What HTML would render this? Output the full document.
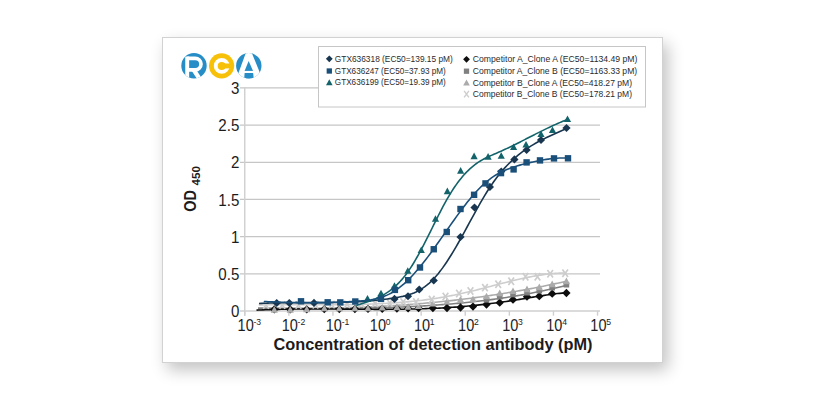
<!DOCTYPE html>
<html><head><meta charset="utf-8"><title>RCA ELISA chart</title>
<style>
html,body{margin:0;padding:0;background:#fff;}
body{width:825px;height:400px;position:relative;overflow:hidden;}
.card{position:absolute;left:162px;top:37px;width:499px;height:324px;border:1px solid #d2d2d2;background:#fff;box-shadow:5px 7px 15px rgba(0,0,0,0.24);}
</style></head><body>
<div class="card"></div>
<svg width="825" height="400" viewBox="0 0 825 400" style="position:absolute;left:0;top:0"><defs>
 <clipPath id="cR"><circle cx="194" cy="65.8" r="12.7"/></clipPath>
 <clipPath id="cA"><circle cx="248.8" cy="65.8" r="12.7"/></clipPath>
</defs>
<circle cx="194" cy="65.8" r="12.7" fill="#268dc7"/>
<g clip-path="url(#cR)" fill="none" stroke="#fff" stroke-width="3.7">
 <line x1="187.2" y1="56.5" x2="187.2" y2="80" stroke-width="3.9"/>
 <path d="M187.2,58.3 H195.2 A5.7,5.7 0 0 1 195.2,69.9 H187.2"/>
 <line x1="193.8" y1="70" x2="200.3" y2="80" stroke-width="4.3"/>
</g>
<circle cx="221.6" cy="65.8" r="12.6" fill="#f7c109"/>
<circle cx="221.7" cy="65.9" r="5.95" fill="none" stroke="#fff" stroke-width="3.9"/>
<rect x="223.5" y="63.5" width="7.5" height="4.9" fill="#f7c109"/>
<circle cx="248.8" cy="65.8" r="12.7" fill="#268dc7"/>
<g clip-path="url(#cA)">
 <path d="M246.9,50 L250.6,50 L262.8,80 L235.9,80Z" fill="#fff"/>
 <path d="M248.65,61.1 L252.85,70.6 L253.9,80 L244.1,80 L244.8,70.6Z" fill="#268dc7"/>
 <rect x="243.5" y="70.9" width="11.5" height="2.1" fill="#fff"/>
</g>
<g stroke="#cfcfcf" stroke-width="1.4" fill="none"><line x1="240" y1="273.83" x2="600" y2="273.83" stroke="#c6c6c6" stroke-width="1.25"/><line x1="240" y1="236.66" x2="600" y2="236.66" stroke="#c6c6c6" stroke-width="1.25"/><line x1="240" y1="199.49" x2="600" y2="199.49" stroke="#c6c6c6" stroke-width="1.25"/><line x1="240" y1="162.32" x2="600" y2="162.32" stroke="#c6c6c6" stroke-width="1.25"/><line x1="240" y1="125.15" x2="600" y2="125.15" stroke="#c6c6c6" stroke-width="1.25"/><line x1="240" y1="87.98" x2="600" y2="87.98" stroke="#c6c6c6" stroke-width="1.25"/><line x1="240" y1="311" x2="600" y2="311" stroke-width="1.6"/><line x1="244.75" y1="311" x2="244.75" y2="315.7"/><line x1="288.85" y1="311" x2="288.85" y2="315.7"/><line x1="332.95" y1="311" x2="332.95" y2="315.7"/><line x1="377.05" y1="311" x2="377.05" y2="315.7"/><line x1="421.15" y1="311" x2="421.15" y2="315.7"/><line x1="465.25" y1="311" x2="465.25" y2="315.7"/><line x1="509.35" y1="311" x2="509.35" y2="315.7"/><line x1="553.45" y1="311" x2="553.45" y2="315.7"/><line x1="597.55" y1="311" x2="597.55" y2="315.7"/><line x1="244.75" y1="87.5" x2="244.75" y2="315.7"/></g>
<g font-family="Liberation Sans, Arial, sans-serif" font-size="15.5" fill="#1c1c1c"><text transform="translate(239.3,317.10) scale(0.9,1)" text-anchor="end" font-size="16.8">0</text><text transform="translate(239.3,279.93) scale(0.9,1)" text-anchor="end" font-size="16.8">0.5</text><text transform="translate(239.3,242.76) scale(0.9,1)" text-anchor="end" font-size="16.8">1</text><text transform="translate(239.3,205.59) scale(0.9,1)" text-anchor="end" font-size="16.8">1.5</text><text transform="translate(239.3,168.42) scale(0.9,1)" text-anchor="end" font-size="16.8">2</text><text transform="translate(239.3,131.25) scale(0.9,1)" text-anchor="end" font-size="16.8">2.5</text><text transform="translate(239.3,94.08) scale(0.9,1)" text-anchor="end" font-size="16.8">3</text><text transform="translate(245.65,330.5) scale(0.86,1)" text-anchor="middle" font-size="16.9">10</text><text transform="translate(253.45,324.5) scale(0.9,1)" font-size="9.6">-3</text><text transform="translate(289.75,330.5) scale(0.86,1)" text-anchor="middle" font-size="16.9">10</text><text transform="translate(297.55,324.5) scale(0.9,1)" font-size="9.6">-2</text><text transform="translate(333.85,330.5) scale(0.86,1)" text-anchor="middle" font-size="16.9">10</text><text transform="translate(341.65,324.5) scale(0.9,1)" font-size="9.6">-1</text><text transform="translate(377.95,330.5) scale(0.86,1)" text-anchor="middle" font-size="16.9">10</text><text transform="translate(385.75,324.5) scale(0.9,1)" font-size="9.6">0</text><text transform="translate(422.05,330.5) scale(0.86,1)" text-anchor="middle" font-size="16.9">10</text><text transform="translate(429.85,324.5) scale(0.9,1)" font-size="9.6">1</text><text transform="translate(466.15,330.5) scale(0.86,1)" text-anchor="middle" font-size="16.9">10</text><text transform="translate(473.95,324.5) scale(0.9,1)" font-size="9.6">2</text><text transform="translate(510.25,330.5) scale(0.86,1)" text-anchor="middle" font-size="16.9">10</text><text transform="translate(518.05,324.5) scale(0.9,1)" font-size="9.6">3</text><text transform="translate(554.35,330.5) scale(0.86,1)" text-anchor="middle" font-size="16.9">10</text><text transform="translate(562.15,324.5) scale(0.9,1)" font-size="9.6">4</text><text transform="translate(598.45,330.5) scale(0.86,1)" text-anchor="middle" font-size="16.9">10</text><text transform="translate(606.25,324.5) scale(0.9,1)" font-size="9.6">5</text></g>
<path d="M258.75,304.91 L260.96,304.87 L263.18,304.84 L265.39,304.81 L267.61,304.79 L269.82,304.77 L272.03,304.75 L274.25,304.73 L276.46,304.72 L278.68,304.71 L280.89,304.71 L283.10,304.70 L285.32,304.70 L287.53,304.70 L289.75,304.70 L291.96,304.70 L294.17,304.70 L296.39,304.71 L298.60,304.71 L300.82,304.72 L303.03,304.73 L305.24,304.73 L307.46,304.74 L309.67,304.75 L311.89,304.75 L314.10,304.76 L316.31,304.76 L318.53,304.77 L320.74,304.77 L322.96,304.77 L325.17,304.77 L327.38,304.77 L329.60,304.77 L331.81,304.76 L334.03,304.75 L336.24,304.74 L338.46,304.73 L340.67,304.71 L342.88,304.69 L345.10,304.67 L347.31,304.64 L349.53,304.61 L351.74,304.58 L353.95,304.54 L356.17,304.50 L358.38,304.45 L360.60,304.40 L362.81,304.34 L365.02,304.28 L367.24,304.21 L369.45,304.14 L371.67,304.06 L373.88,303.97 L376.09,303.88 L378.31,303.78 L380.52,303.68 L382.74,303.57 L384.95,303.45 L387.16,303.32 L389.38,303.19 L391.59,303.05 L393.81,302.90 L396.02,302.75 L398.23,302.58 L400.45,302.41 L402.66,302.23 L404.88,302.04 L407.09,301.84 L409.30,301.63 L411.52,301.41 L413.73,301.18 L415.95,300.95 L418.16,300.70 L420.37,300.44 L422.59,300.17 L424.80,299.89 L427.02,299.61 L429.23,299.30 L431.44,298.99 L433.66,298.67 L435.87,298.34 L438.09,297.99 L440.30,297.63 L442.51,297.26 L444.73,296.88 L446.94,296.48 L449.16,296.07 L451.37,295.65 L453.58,295.22 L455.80,294.77 L458.01,294.30 L460.23,293.83 L462.44,293.34 L464.65,292.84 L466.87,292.32 L469.08,291.80 L471.30,291.26 L473.51,290.72 L475.72,290.16 L477.94,289.61 L480.15,289.04 L482.37,288.47 L484.58,287.90 L486.79,287.32 L489.01,286.74 L491.22,286.16 L493.44,285.58 L495.65,285.00 L497.87,284.42 L500.08,283.85 L502.29,283.28 L504.51,282.72 L506.72,282.16 L508.94,281.61 L511.15,281.06 L513.36,280.53 L515.58,280.00 L517.79,279.49 L520.01,278.99 L522.22,278.50 L524.43,278.02 L526.65,277.56 L528.86,277.12 L531.08,276.69 L533.29,276.28 L535.50,275.89 L537.72,275.52 L539.93,275.17 L542.15,274.85 L544.36,274.54 L546.57,274.26 L548.79,274.01 L551.00,273.78 L553.22,273.57 L555.43,273.40 L557.64,273.25 L559.86,273.14 L562.07,273.05 L564.29,273.00 L566.50,272.98" stroke="#cdcdcd" stroke-width="1.6" fill="none"/>
<path d="M258.00,307.72 L260.22,307.78 L262.44,307.83 L264.66,307.88 L266.88,307.93 L269.10,307.98 L271.32,308.02 L273.54,308.06 L275.76,308.10 L277.97,308.13 L280.19,308.16 L282.41,308.19 L284.63,308.22 L286.85,308.24 L289.07,308.26 L291.29,308.28 L293.51,308.30 L295.73,308.31 L297.95,308.32 L300.17,308.32 L302.39,308.32 L304.61,308.32 L306.83,308.32 L309.05,308.32 L311.27,308.31 L313.49,308.29 L315.71,308.28 L317.92,308.26 L320.14,308.24 L322.36,308.21 L324.58,308.19 L326.80,308.15 L329.02,308.12 L331.24,308.08 L333.46,308.04 L335.68,308.00 L337.90,307.95 L340.12,307.90 L342.34,307.84 L344.56,307.78 L346.78,307.72 L349.00,307.66 L351.22,307.59 L353.44,307.52 L355.65,307.44 L357.87,307.37 L360.09,307.28 L362.31,307.20 L364.53,307.11 L366.75,307.01 L368.97,306.92 L371.19,306.82 L373.41,306.71 L375.63,306.61 L377.85,306.50 L380.07,306.38 L382.29,306.26 L384.51,306.14 L386.73,306.01 L388.95,305.88 L391.17,305.75 L393.38,305.61 L395.60,305.47 L397.82,305.32 L400.04,305.17 L402.26,305.02 L404.48,304.86 L406.70,304.70 L408.92,304.53 L411.14,304.36 L413.36,304.19 L415.58,304.01 L417.80,303.83 L420.02,303.65 L422.24,303.46 L424.46,303.26 L426.68,303.06 L428.90,302.86 L431.12,302.65 L433.33,302.44 L435.55,302.23 L437.77,302.01 L439.99,301.78 L442.21,301.55 L444.43,301.32 L446.65,301.08 L448.87,300.84 L451.09,300.60 L453.31,300.35 L455.53,300.09 L457.75,299.83 L459.97,299.57 L462.19,299.30 L464.41,299.03 L466.63,298.75 L468.85,298.47 L471.06,298.18 L473.28,297.89 L475.50,297.59 L477.72,297.29 L479.94,296.99 L482.16,296.68 L484.38,296.36 L486.60,296.04 L488.82,295.72 L491.04,295.39 L493.26,295.05 L495.48,294.71 L497.70,294.37 L499.92,294.02 L502.14,293.67 L504.36,293.31 L506.58,292.95 L508.79,292.58 L511.01,292.20 L513.23,291.82 L515.45,291.44 L517.67,291.05 L519.89,290.66 L522.11,290.26 L524.33,289.86 L526.55,289.45 L528.77,289.03 L530.99,288.61 L533.21,288.19 L535.43,287.76 L537.65,287.32 L539.87,286.88 L542.09,286.44 L544.31,285.98 L546.53,285.53 L548.74,285.07 L550.96,284.60 L553.18,284.13 L555.40,283.65 L557.62,283.16 L559.84,282.67 L562.06,282.18 L564.28,281.68 L566.50,281.17" stroke="#ababab" stroke-width="1.6" fill="none"/>
<path d="M258.00,308.63 L260.22,308.61 L262.44,308.60 L264.66,308.59 L266.88,308.58 L269.10,308.57 L271.32,308.56 L273.54,308.55 L275.76,308.54 L277.97,308.53 L280.19,308.53 L282.41,308.52 L284.63,308.51 L286.85,308.51 L289.07,308.50 L291.29,308.50 L293.51,308.50 L295.73,308.49 L297.95,308.49 L300.17,308.48 L302.39,308.48 L304.61,308.47 L306.83,308.47 L309.05,308.47 L311.27,308.46 L313.49,308.45 L315.71,308.45 L317.92,308.44 L320.14,308.43 L322.36,308.42 L324.58,308.41 L326.80,308.40 L329.02,308.39 L331.24,308.38 L333.46,308.36 L335.68,308.35 L337.90,308.33 L340.12,308.31 L342.34,308.29 L344.56,308.27 L346.78,308.25 L349.00,308.23 L351.22,308.20 L353.44,308.17 L355.65,308.14 L357.87,308.11 L360.09,308.08 L362.31,308.04 L364.53,308.00 L366.75,307.96 L368.97,307.92 L371.19,307.87 L373.41,307.82 L375.63,307.77 L377.85,307.72 L380.07,307.66 L382.29,307.60 L384.51,307.54 L386.73,307.48 L388.95,307.41 L391.17,307.34 L393.38,307.26 L395.60,307.19 L397.82,307.10 L400.04,307.02 L402.26,306.93 L404.48,306.84 L406.70,306.74 L408.92,306.65 L411.14,306.54 L413.36,306.44 L415.58,306.32 L417.80,306.21 L420.02,306.09 L422.24,305.97 L424.46,305.84 L426.68,305.71 L428.90,305.57 L431.12,305.43 L433.33,305.28 L435.55,305.13 L437.77,304.98 L439.99,304.82 L442.21,304.66 L444.43,304.49 L446.65,304.31 L448.87,304.13 L451.09,303.95 L453.31,303.76 L455.53,303.56 L457.75,303.36 L459.97,303.15 L462.19,302.94 L464.41,302.72 L466.63,302.50 L468.85,302.27 L471.06,302.04 L473.28,301.80 L475.50,301.55 L477.72,301.30 L479.94,301.04 L482.16,300.77 L484.38,300.50 L486.60,300.22 L488.82,299.94 L491.04,299.65 L493.26,299.35 L495.48,299.04 L497.70,298.73 L499.92,298.41 L502.14,298.09 L504.36,297.76 L506.58,297.42 L508.79,297.07 L511.01,296.72 L513.23,296.36 L515.45,295.99 L517.67,295.61 L519.89,295.23 L522.11,294.84 L524.33,294.44 L526.55,294.03 L528.77,293.62 L530.99,293.20 L533.21,292.77 L535.43,292.33 L537.65,291.88 L539.87,291.43 L542.09,290.96 L544.31,290.49 L546.53,290.01 L548.74,289.53 L550.96,289.03 L553.18,288.52 L555.40,288.01 L557.62,287.49 L559.84,286.95 L562.06,286.41 L564.28,285.86 L566.50,285.30" stroke="#808080" stroke-width="1.6" fill="none"/>
<path d="M256.50,310.17 L258.73,310.06 L260.96,309.96 L263.19,309.86 L265.42,309.77 L267.65,309.69 L269.88,309.61 L272.11,309.54 L274.34,309.47 L276.57,309.41 L278.80,309.35 L281.03,309.30 L283.26,309.25 L285.49,309.21 L287.72,309.17 L289.95,309.13 L292.18,309.10 L294.41,309.07 L296.64,309.05 L298.87,309.03 L301.10,309.01 L303.33,309.00 L305.56,308.99 L307.79,308.98 L310.03,308.97 L312.26,308.97 L314.49,308.97 L316.72,308.97 L318.95,308.98 L321.18,308.98 L323.41,308.99 L325.64,309.00 L327.87,309.01 L330.10,309.02 L332.33,309.04 L334.56,309.05 L336.79,309.07 L339.02,309.09 L341.25,309.10 L343.48,309.12 L345.71,309.14 L347.94,309.16 L350.17,309.17 L352.40,309.19 L354.63,309.21 L356.86,309.23 L359.09,309.24 L361.32,309.26 L363.55,309.27 L365.78,309.29 L368.01,309.30 L370.24,309.31 L372.47,309.32 L374.70,309.33 L376.93,309.33 L379.16,309.33 L381.39,309.34 L383.62,309.33 L385.85,309.33 L388.08,309.32 L390.31,309.31 L392.54,309.30 L394.77,309.29 L397.00,309.27 L399.23,309.25 L401.46,309.22 L403.69,309.19 L405.92,309.16 L408.15,309.12 L410.38,309.08 L412.62,309.03 L414.85,308.98 L417.08,308.92 L419.31,308.86 L421.54,308.80 L423.77,308.73 L426.00,308.65 L428.23,308.57 L430.46,308.48 L432.69,308.39 L434.92,308.29 L437.15,308.19 L439.38,308.08 L441.61,307.96 L443.84,307.84 L446.07,307.71 L448.30,307.57 L450.53,307.42 L452.76,307.27 L454.99,307.11 L457.22,306.95 L459.45,306.77 L461.68,306.59 L463.91,306.40 L466.14,306.20 L468.37,306.00 L470.60,305.79 L472.83,305.57 L475.06,305.34 L477.29,305.10 L479.52,304.86 L481.75,304.61 L483.98,304.36 L486.21,304.09 L488.44,303.82 L490.67,303.55 L492.90,303.26 L495.13,302.97 L497.36,302.68 L499.59,302.37 L501.82,302.06 L504.05,301.75 L506.28,301.43 L508.51,301.10 L510.74,300.76 L512.97,300.42 L515.21,300.08 L517.44,299.73 L519.67,299.37 L521.90,299.01 L524.13,298.64 L526.36,298.27 L528.59,297.89 L530.82,297.52 L533.05,297.15 L535.28,296.78 L537.51,296.42 L539.74,296.06 L541.97,295.71 L544.20,295.37 L546.43,295.04 L548.66,294.71 L550.89,294.41 L553.12,294.11 L555.35,293.83 L557.58,293.57 L559.81,293.33 L562.04,293.11 L564.27,292.91 L566.50,292.73" stroke="#0d0d0d" stroke-width="1.6" fill="none"/>
<path d="M274.30,305.25L278.45,309.40L274.30,313.55L270.15,309.40Z" fill="#0d0d0d"/><path d="M290.25,305.25L294.40,309.40L290.25,313.55L286.10,309.40Z" fill="#0d0d0d"/><path d="M306.75,305.15L310.90,309.30L306.75,313.45L302.60,309.30Z" fill="#0d0d0d"/><path d="M324.30,305.05L328.45,309.20L324.30,313.35L320.15,309.20Z" fill="#0d0d0d"/><path d="M339.30,304.95L343.45,309.10L339.30,313.25L335.15,309.10Z" fill="#0d0d0d"/><path d="M354.90,304.85L359.05,309.00L354.90,313.15L350.75,309.00Z" fill="#0d0d0d"/><path d="M368.00,304.75L372.15,308.90L368.00,313.05L363.85,308.90Z" fill="#0d0d0d"/><path d="M382.25,304.65L386.40,308.80L382.25,312.95L378.10,308.80Z" fill="#0d0d0d"/><path d="M396.90,304.45L401.05,308.60L396.90,312.75L392.75,308.60Z" fill="#0d0d0d"/><path d="M408.10,304.25L412.25,308.40L408.10,312.55L403.95,308.40Z" fill="#0d0d0d"/><path d="M418.60,304.05L422.75,308.20L418.60,312.35L414.45,308.20Z" fill="#0d0d0d"/><path d="M432.90,303.85L437.05,308.00L432.90,312.15L428.75,308.00Z" fill="#0d0d0d"/><path d="M447.00,303.85L451.15,308.00L447.00,312.15L442.85,308.00Z" fill="#0d0d0d"/><path d="M460.50,303.35L464.65,307.50L460.50,311.65L456.35,307.50Z" fill="#0d0d0d"/><path d="M473.00,302.45L477.15,306.60L473.00,310.75L468.85,306.60Z" fill="#0d0d0d"/><path d="M486.50,300.35L490.65,304.50L486.50,308.65L482.35,304.50Z" fill="#0d0d0d"/><path d="M499.70,298.55L503.85,302.70L499.70,306.85L495.55,302.70Z" fill="#0d0d0d"/><path d="M513.00,295.55L517.15,299.70L513.00,303.85L508.85,299.70Z" fill="#0d0d0d"/><path d="M527.00,292.55L531.15,296.70L527.00,300.85L522.85,296.70Z" fill="#0d0d0d"/><path d="M539.30,292.05L543.45,296.20L539.30,300.35L535.15,296.20Z" fill="#0d0d0d"/><path d="M552.20,289.55L556.35,293.70L552.20,297.85L548.05,293.70Z" fill="#0d0d0d"/><path d="M566.40,288.85L570.55,293.00L566.40,297.15L562.25,293.00Z" fill="#0d0d0d"/><rect x="483.70" y="297.00" width="5.60" height="5.60" fill="#808080"/><rect x="496.90" y="293.90" width="5.60" height="5.60" fill="#808080"/><rect x="510.20" y="291.70" width="5.60" height="5.60" fill="#808080"/><rect x="524.20" y="289.90" width="5.60" height="5.60" fill="#808080"/><rect x="536.50" y="287.90" width="5.60" height="5.60" fill="#808080"/><rect x="549.40" y="284.90" width="5.60" height="5.60" fill="#808080"/><rect x="563.60" y="281.90" width="5.60" height="5.60" fill="#808080"/><path d="M274.30,306.00L277.90,312.66L270.70,312.66Z" fill="#ababab"/><path d="M290.25,306.00L293.85,312.66L286.65,312.66Z" fill="#ababab"/><path d="M306.75,305.50L310.35,312.16L303.15,312.16Z" fill="#ababab"/><path d="M324.30,304.70L327.90,311.36L320.70,311.36Z" fill="#ababab"/><path d="M339.30,304.70L342.90,311.36L335.70,311.36Z" fill="#ababab"/><path d="M354.90,304.70L358.50,311.36L351.30,311.36Z" fill="#ababab"/><path d="M368.00,304.70L371.60,311.36L364.40,311.36Z" fill="#ababab"/><path d="M382.25,303.90L385.85,310.56L378.65,310.56Z" fill="#ababab"/><path d="M396.90,303.50L400.50,310.16L393.30,310.16Z" fill="#ababab"/><path d="M408.10,303.15L411.70,309.81L404.50,309.81Z" fill="#ababab"/><path d="M418.60,302.40L422.20,309.06L415.00,309.06Z" fill="#ababab"/><path d="M432.90,299.90L436.50,306.56L429.30,306.56Z" fill="#ababab"/><path d="M447.00,297.90L450.60,304.56L443.40,304.56Z" fill="#ababab"/><path d="M460.50,295.90L464.10,302.56L456.90,302.56Z" fill="#ababab"/><path d="M473.00,295.40L476.60,302.06L469.40,302.06Z" fill="#ababab"/><path d="M486.50,292.70L490.10,299.36L482.90,299.36Z" fill="#ababab"/><path d="M499.70,289.60L503.30,296.26L496.10,296.26Z" fill="#ababab"/><path d="M513.00,287.40L516.60,294.06L509.40,294.06Z" fill="#ababab"/><path d="M527.00,285.60L530.60,292.26L523.40,292.26Z" fill="#ababab"/><path d="M539.30,283.60L542.90,290.26L535.70,290.26Z" fill="#ababab"/><path d="M552.20,280.60L555.80,287.26L548.60,287.26Z" fill="#ababab"/><path d="M566.40,277.60L570.00,284.26L562.80,284.26Z" fill="#ababab"/><path d="M263.20,301.30L268.80,308.70M268.80,301.30L263.20,308.70" stroke="#cdcdcd" stroke-width="1.7" fill="none"/><path d="M279.50,301.30L285.10,308.70M285.10,301.30L279.50,308.70" stroke="#cdcdcd" stroke-width="1.7" fill="none"/><path d="M295.70,301.30L301.30,308.70M301.30,301.30L295.70,308.70" stroke="#cdcdcd" stroke-width="1.7" fill="none"/><path d="M312.70,301.10L318.30,308.50M318.30,301.10L312.70,308.50" stroke="#cdcdcd" stroke-width="1.7" fill="none"/><path d="M329.00,300.80L334.60,308.20M334.60,300.80L329.00,308.20" stroke="#cdcdcd" stroke-width="1.7" fill="none"/><path d="M344.30,300.50L349.90,307.90M349.90,300.50L344.30,307.90" stroke="#cdcdcd" stroke-width="1.7" fill="none"/><path d="M358.70,300.10L364.30,307.50M364.30,300.10L358.70,307.50" stroke="#cdcdcd" stroke-width="1.7" fill="none"/><path d="M372.30,299.70L377.90,307.10M377.90,299.70L372.30,307.10" stroke="#cdcdcd" stroke-width="1.7" fill="none"/><path d="M386.95,299.30L392.55,306.70M392.55,299.30L386.95,306.70" stroke="#cdcdcd" stroke-width="1.7" fill="none"/><path d="M400.45,298.20L406.05,305.60M406.05,298.20L400.45,305.60" stroke="#cdcdcd" stroke-width="1.7" fill="none"/><path d="M413.20,298.20L418.80,305.60M418.80,298.20L413.20,305.60" stroke="#cdcdcd" stroke-width="1.7" fill="none"/><path d="M428.95,295.80L434.55,303.20M434.55,295.80L428.95,303.20" stroke="#cdcdcd" stroke-width="1.7" fill="none"/><path d="M442.70,292.80L448.30,300.20M448.30,292.80L442.70,300.20" stroke="#cdcdcd" stroke-width="1.7" fill="none"/><path d="M456.20,289.80L461.80,297.20M461.80,289.80L456.20,297.20" stroke="#cdcdcd" stroke-width="1.7" fill="none"/><path d="M467.70,287.30L473.30,294.70M473.30,287.30L467.70,294.70" stroke="#cdcdcd" stroke-width="1.7" fill="none"/><path d="M482.20,283.90L487.80,291.30M487.80,283.90L482.20,291.30" stroke="#cdcdcd" stroke-width="1.7" fill="none"/><path d="M495.40,280.50L501.00,287.90M501.00,280.50L495.40,287.90" stroke="#cdcdcd" stroke-width="1.7" fill="none"/><path d="M508.40,277.50L514.00,284.90M514.00,277.50L508.40,284.90" stroke="#cdcdcd" stroke-width="1.7" fill="none"/><path d="M522.70,273.00L528.30,280.40M528.30,273.00L522.70,280.40" stroke="#cdcdcd" stroke-width="1.7" fill="none"/><path d="M534.70,273.00L540.30,280.40M540.30,273.00L534.70,280.40" stroke="#cdcdcd" stroke-width="1.7" fill="none"/><path d="M547.40,270.00L553.00,277.40M553.00,270.00L547.40,277.40" stroke="#cdcdcd" stroke-width="1.7" fill="none"/><path d="M562.40,269.60L568.00,277.00M568.00,269.60L562.40,277.00" stroke="#cdcdcd" stroke-width="1.7" fill="none"/>
<path d="M259.00,303.47 L261.21,303.36 L263.42,303.27 L265.64,303.18 L267.85,303.11 L270.06,303.04 L272.27,302.98 L274.49,302.92 L276.70,302.87 L278.91,302.83 L281.12,302.80 L283.33,302.77 L285.55,302.74 L287.76,302.72 L289.97,302.70 L292.18,302.69 L294.40,302.68 L296.61,302.67 L298.82,302.66 L301.03,302.66 L303.24,302.66 L305.46,302.65 L307.67,302.65 L309.88,302.65 L312.09,302.65 L314.31,302.64 L316.52,302.64 L318.73,302.63 L320.94,302.62 L323.15,302.61 L325.37,302.59 L327.58,302.57 L329.79,302.54 L332.00,302.51 L334.22,302.48 L336.43,302.44 L338.64,302.39 L340.85,302.34 L343.06,302.28 L345.28,302.21 L347.49,302.13 L349.70,302.05 L351.91,301.96 L354.13,301.86 L356.34,301.74 L358.55,301.62 L360.76,301.49 L362.97,301.35 L365.19,301.19 L367.40,301.03 L369.61,300.85 L371.82,300.66 L374.04,300.46 L376.25,300.24 L378.46,300.01 L380.67,299.77 L382.88,299.51 L385.10,299.23 L387.31,298.94 L389.52,298.64 L391.73,298.32 L393.95,297.98 L396.16,297.62 L398.37,297.24 L400.58,296.82 L402.79,296.35 L405.01,295.81 L407.22,295.22 L409.43,294.54 L411.64,293.76 L413.86,292.89 L416.07,291.91 L418.28,290.80 L420.49,289.57 L422.71,288.19 L424.92,286.65 L427.13,284.95 L429.34,283.08 L431.55,281.02 L433.77,278.77 L435.98,276.32 L438.19,273.68 L440.40,270.86 L442.62,267.87 L444.83,264.73 L447.04,261.44 L449.25,258.02 L451.46,254.48 L453.68,250.82 L455.89,247.07 L458.10,243.23 L460.31,239.32 L462.53,235.34 L464.74,231.31 L466.95,227.25 L469.16,223.17 L471.37,219.10 L473.59,215.04 L475.80,211.02 L478.01,207.04 L480.22,203.14 L482.44,199.31 L484.65,195.59 L486.86,191.98 L489.07,188.51 L491.28,185.18 L493.50,182.01 L495.71,178.97 L497.92,176.07 L500.13,173.31 L502.35,170.67 L504.56,168.16 L506.77,165.77 L508.98,163.49 L511.19,161.32 L513.41,159.26 L515.62,157.29 L517.83,155.42 L520.04,153.64 L522.26,151.95 L524.47,150.33 L526.68,148.79 L528.89,147.32 L531.10,145.92 L533.32,144.58 L535.53,143.29 L537.74,142.05 L539.95,140.86 L542.17,139.71 L544.38,138.60 L546.59,137.52 L548.80,136.47 L551.01,135.44 L553.23,134.43 L555.44,133.43 L557.65,132.43 L559.86,131.44 L562.08,130.45 L564.29,129.45 L566.50,128.44" stroke="#18364f" stroke-width="1.6" fill="none"/>
<path d="M276.70,298.90L280.80,303.00L276.70,307.10L272.60,303.00Z" fill="#18364f"/><path d="M289.30,298.90L293.40,303.00L289.30,307.10L285.20,303.00Z" fill="#18364f"/><path d="M314.00,298.80L318.10,302.90L314.00,307.00L309.90,302.90Z" fill="#18364f"/><path d="M394.50,294.80L398.60,298.90L394.50,303.00L390.40,298.90Z" fill="#18364f"/><path d="M408.00,292.15L412.10,296.25L408.00,300.35L403.90,296.25Z" fill="#18364f"/><path d="M419.25,285.40L423.35,289.50L419.25,293.60L415.15,289.50Z" fill="#18364f"/><path d="M433.75,276.40L437.85,280.50L433.75,284.60L429.65,280.50Z" fill="#18364f"/><path d="M460.50,232.90L464.60,237.00L460.50,241.10L456.40,237.00Z" fill="#18364f"/><path d="M474.50,203.40L478.60,207.50L474.50,211.60L470.40,207.50Z" fill="#18364f"/><path d="M489.90,182.80L494.00,186.90L489.90,191.00L485.80,186.90Z" fill="#18364f"/><path d="M501.25,167.40L505.35,171.50L501.25,175.60L497.15,171.50Z" fill="#18364f"/><path d="M514.40,155.30L518.50,159.40L514.40,163.50L510.30,159.40Z" fill="#18364f"/><path d="M526.60,145.90L530.70,150.00L526.60,154.10L522.50,150.00Z" fill="#18364f"/><path d="M541.00,135.90L545.10,140.00L541.00,144.10L536.90,140.00Z" fill="#18364f"/><path d="M566.50,123.90L570.60,128.00L566.50,132.10L562.40,128.00Z" fill="#18364f"/>
<path d="M356.25,305.66 L357.77,305.12 L359.29,304.60 L360.81,304.08 L362.32,303.57 L363.84,303.05 L365.36,302.54 L366.88,302.01 L368.40,301.48 L369.92,300.93 L371.43,300.36 L372.95,299.77 L374.47,299.16 L375.99,298.52 L377.51,297.84 L379.03,297.13 L380.54,296.38 L382.06,295.58 L383.58,294.74 L385.10,293.84 L386.62,292.89 L388.14,291.89 L389.65,290.82 L391.17,289.69 L392.69,288.48 L394.21,287.21 L395.73,285.85 L397.25,284.42 L398.76,282.91 L400.28,281.30 L401.80,279.61 L403.32,277.82 L404.84,275.93 L406.36,273.94 L407.87,271.85 L409.39,269.65 L410.91,267.35 L412.43,264.96 L413.95,262.47 L415.47,259.91 L416.98,257.27 L418.50,254.56 L420.02,251.78 L421.54,248.95 L423.06,246.06 L424.58,243.13 L426.09,240.15 L427.61,237.15 L429.13,234.11 L430.65,231.05 L432.17,227.98 L433.69,224.91 L435.20,221.84 L436.72,218.79 L438.24,215.76 L439.76,212.77 L441.28,209.82 L442.80,206.93 L444.31,204.10 L445.83,201.34 L447.35,198.66 L448.87,196.06 L450.39,193.56 L451.91,191.14 L453.42,188.80 L454.94,186.55 L456.46,184.39 L457.98,182.31 L459.50,180.31 L461.02,178.40 L462.53,176.57 L464.05,174.82 L465.57,173.15 L467.09,171.57 L468.61,170.06 L470.13,168.64 L471.64,167.29 L473.16,166.03 L474.68,164.84 L476.20,163.72 L477.72,162.67 L479.24,161.68 L480.75,160.75 L482.27,159.87 L483.79,159.03 L485.31,158.24 L486.83,157.48 L488.35,156.75 L489.86,156.05 L491.38,155.36 L492.90,154.70 L494.42,154.04 L495.94,153.39 L497.46,152.74 L498.97,152.08 L500.49,151.41 L502.01,150.74 L503.53,150.05 L505.05,149.35 L506.57,148.64 L508.08,147.92 L509.60,147.19 L511.12,146.46 L512.64,145.72 L514.16,144.97 L515.68,144.21 L517.19,143.45 L518.71,142.69 L520.23,141.92 L521.75,141.15 L523.27,140.38 L524.79,139.60 L526.30,138.82 L527.82,138.04 L529.34,137.26 L530.86,136.49 L532.38,135.71 L533.90,134.93 L535.41,134.16 L536.93,133.39 L538.45,132.62 L539.97,131.86 L541.49,131.10 L543.01,130.35 L544.52,129.60 L546.04,128.86 L547.56,128.13 L549.08,127.41 L550.60,126.69 L552.12,125.99 L553.63,125.29 L555.15,124.61 L556.67,123.93 L558.19,123.27 L559.71,122.62 L561.23,121.98 L562.74,121.36 L564.26,120.75 L565.78,120.16 L567.30,119.58" stroke="#13636b" stroke-width="1.6" fill="none"/>
<path d="M367.50,294.90L371.10,301.56L363.90,301.56Z" fill="#13636b"/><path d="M381.00,289.65L384.60,296.31L377.40,296.31Z" fill="#13636b"/><path d="M394.50,282.15L398.10,288.81L390.90,288.81Z" fill="#13636b"/><path d="M407.80,267.20L411.40,273.86L404.20,273.86Z" fill="#13636b"/><path d="M421.25,246.40L424.85,253.06L417.65,253.06Z" fill="#13636b"/><path d="M435.50,215.15L439.10,221.81L431.90,221.81Z" fill="#13636b"/><path d="M447.35,187.50L450.95,194.16L443.75,194.16Z" fill="#13636b"/><path d="M460.65,167.00L464.25,173.66L457.05,173.66Z" fill="#13636b"/><path d="M474.10,152.50L477.70,159.16L470.50,159.16Z" fill="#13636b"/><path d="M488.10,153.00L491.70,159.66L484.50,159.66Z" fill="#13636b"/><path d="M501.25,152.15L504.85,158.81L497.65,158.81Z" fill="#13636b"/><path d="M513.60,143.40L517.20,150.06L510.00,150.06Z" fill="#13636b"/><path d="M526.00,140.90L529.60,147.56L522.40,147.56Z" fill="#13636b"/><path d="M541.00,130.40L544.60,137.06L537.40,137.06Z" fill="#13636b"/><path d="M552.50,126.40L556.10,133.06L548.90,133.06Z" fill="#13636b"/><path d="M567.50,115.40L571.10,122.06L563.90,122.06Z" fill="#13636b"/>
<path d="M264.00,301.46 L266.19,301.57 L268.37,301.68 L270.56,301.79 L272.75,301.89 L274.94,301.98 L277.12,302.07 L279.31,302.15 L281.50,302.22 L283.68,302.29 L285.87,302.36 L288.06,302.42 L290.24,302.47 L292.43,302.52 L294.62,302.56 L296.81,302.60 L298.99,302.63 L301.18,302.65 L303.37,302.67 L305.55,302.69 L307.74,302.69 L309.93,302.70 L312.12,302.69 L314.30,302.68 L316.49,302.66 L318.68,302.64 L320.86,302.61 L323.05,302.58 L325.24,302.54 L327.42,302.49 L329.61,302.44 L331.80,302.38 L333.99,302.31 L336.17,302.24 L338.36,302.16 L340.55,302.08 L342.73,301.99 L344.92,301.89 L347.11,301.79 L349.29,301.68 L351.48,301.56 L353.67,301.44 L355.86,301.31 L358.04,301.17 L360.23,301.02 L362.42,300.84 L364.60,300.64 L366.79,300.39 L368.98,300.11 L371.17,299.77 L373.35,299.37 L375.54,298.91 L377.73,298.38 L379.91,297.77 L382.10,297.06 L384.29,296.27 L386.47,295.37 L388.66,294.36 L390.85,293.24 L393.04,291.99 L395.22,290.62 L397.41,289.11 L399.60,287.48 L401.78,285.72 L403.97,283.84 L406.16,281.85 L408.35,279.75 L410.53,277.55 L412.72,275.24 L414.91,272.83 L417.09,270.33 L419.28,267.75 L421.47,265.07 L423.65,262.32 L425.84,259.50 L428.03,256.62 L430.22,253.67 L432.40,250.68 L434.59,247.65 L436.78,244.59 L438.96,241.49 L441.15,238.38 L443.34,235.25 L445.53,232.12 L447.71,228.99 L449.90,225.87 L452.09,222.76 L454.27,219.68 L456.46,216.63 L458.65,213.62 L460.83,210.66 L463.02,207.74 L465.21,204.89 L467.40,202.10 L469.58,199.39 L471.77,196.76 L473.96,194.22 L476.14,191.78 L478.33,189.44 L480.52,187.21 L482.71,185.10 L484.89,183.12 L487.08,181.26 L489.27,179.54 L491.45,177.93 L493.64,176.44 L495.83,175.05 L498.01,173.77 L500.20,172.58 L502.39,171.48 L504.58,170.46 L506.76,169.52 L508.95,168.65 L511.14,167.84 L513.32,167.09 L515.51,166.39 L517.70,165.74 L519.88,165.12 L522.07,164.54 L524.26,163.98 L526.45,163.44 L528.63,162.92 L530.82,162.40 L533.01,161.91 L535.19,161.43 L537.38,160.98 L539.57,160.54 L541.76,160.14 L543.94,159.76 L546.13,159.41 L548.32,159.09 L550.50,158.81 L552.69,158.56 L554.88,158.36 L557.06,158.19 L559.25,158.07 L561.44,158.00 L563.63,157.98 L565.81,158.01 L568.00,158.09" stroke="#1a4f7a" stroke-width="1.6" fill="none"/>
<rect x="297.80" y="298.10" width="6.40" height="6.40" fill="#1a4f7a"/><rect x="324.50" y="299.10" width="6.40" height="6.40" fill="#1a4f7a"/><rect x="337.10" y="299.20" width="6.40" height="6.40" fill="#1a4f7a"/><rect x="352.10" y="298.30" width="6.40" height="6.40" fill="#1a4f7a"/><rect x="377.80" y="295.70" width="6.40" height="6.40" fill="#1a4f7a"/><rect x="391.70" y="286.70" width="6.40" height="6.40" fill="#1a4f7a"/><rect x="405.00" y="277.00" width="6.40" height="6.40" fill="#1a4f7a"/><rect x="416.80" y="264.30" width="6.40" height="6.40" fill="#1a4f7a"/><rect x="430.55" y="246.05" width="6.40" height="6.40" fill="#1a4f7a"/><rect x="443.55" y="228.80" width="6.40" height="6.40" fill="#1a4f7a"/><rect x="457.30" y="205.80" width="6.40" height="6.40" fill="#1a4f7a"/><rect x="470.90" y="191.60" width="6.40" height="6.40" fill="#1a4f7a"/><rect x="482.30" y="180.20" width="6.40" height="6.40" fill="#1a4f7a"/><rect x="497.80" y="169.90" width="6.40" height="6.40" fill="#1a4f7a"/><rect x="510.40" y="166.20" width="6.40" height="6.40" fill="#1a4f7a"/><rect x="523.40" y="159.20" width="6.40" height="6.40" fill="#1a4f7a"/><rect x="536.80" y="157.20" width="6.40" height="6.40" fill="#1a4f7a"/><rect x="550.80" y="155.20" width="6.40" height="6.40" fill="#1a4f7a"/><rect x="564.80" y="155.10" width="6.40" height="6.40" fill="#1a4f7a"/>
<text x="273.5" y="350.3" font-family="Liberation Sans, Arial, sans-serif" font-weight="bold" font-size="16" fill="#1e1b1c" textLength="319" lengthAdjust="spacingAndGlyphs">Concentration of detection antibody (pM)</text>
<g transform="translate(196.0,211.7) rotate(-90)" font-family="Liberation Sans, Arial, sans-serif" font-weight="bold" fill="#1e1b1c"><text x="0" y="0" font-size="16" textLength="21.7" lengthAdjust="spacingAndGlyphs">OD</text><text x="26.2" y="4.4" font-size="10.8" textLength="19.5" lengthAdjust="spacingAndGlyphs">450</text></g>
<g font-family="Liberation Sans, Arial, sans-serif" font-size="9.2" fill="#2b2b2b"><rect x="318.5" y="46.5" width="327" height="60.5" fill="#fff" stroke="#c6c6c6" stroke-width="1"/><path d="M329.30,55.40L332.70,58.80L329.30,62.20L325.90,58.80Z" fill="#18364f"/><text x="334.8" y="61.5" textLength="118" lengthAdjust="spacingAndGlyphs">GTX636318 (EC50=139.15 pM)</text><rect x="326.65" y="68.35" width="5.30" height="5.30" fill="#1a4f7a"/><text x="334.8" y="73.6" textLength="111" lengthAdjust="spacingAndGlyphs">GTX636247 (EC50=37.93 pM)</text><path d="M329.30,79.20L332.60,85.31L326.00,85.31Z" fill="#13636b"/><text x="334.8" y="85.2" textLength="111" lengthAdjust="spacingAndGlyphs">GTX636199 (EC50=19.39 pM)</text><path d="M466.50,55.90L469.90,59.30L466.50,62.70L463.10,59.30Z" fill="#0d0d0d"/><text x="472.75" y="62.2" textLength="164.7" lengthAdjust="spacingAndGlyphs">Competitor A_Clone A (EC50=1134.49 pM)</text><rect x="463.85" y="68.55" width="5.30" height="5.30" fill="#808080"/><text x="472.75" y="74.0" textLength="164.4" lengthAdjust="spacingAndGlyphs">Competitor A_Clone B (EC50=1163.33 pM)</text><path d="M466.50,79.50L469.80,85.60L463.20,85.60Z" fill="#ababab"/><text x="472.75" y="85.6" textLength="159.3" lengthAdjust="spacingAndGlyphs">Competitor B_Clone A (EC50=418.27 pM)</text><path d="M464.10,90.90L468.90,97.30M468.90,90.90L464.10,97.30" stroke="#cdcdcd" stroke-width="1.4" fill="none"/><text x="472.75" y="97.0" textLength="159.3" lengthAdjust="spacingAndGlyphs">Competitor B_Clone B (EC50=178.21 pM)</text></g></svg>
</body></html>
